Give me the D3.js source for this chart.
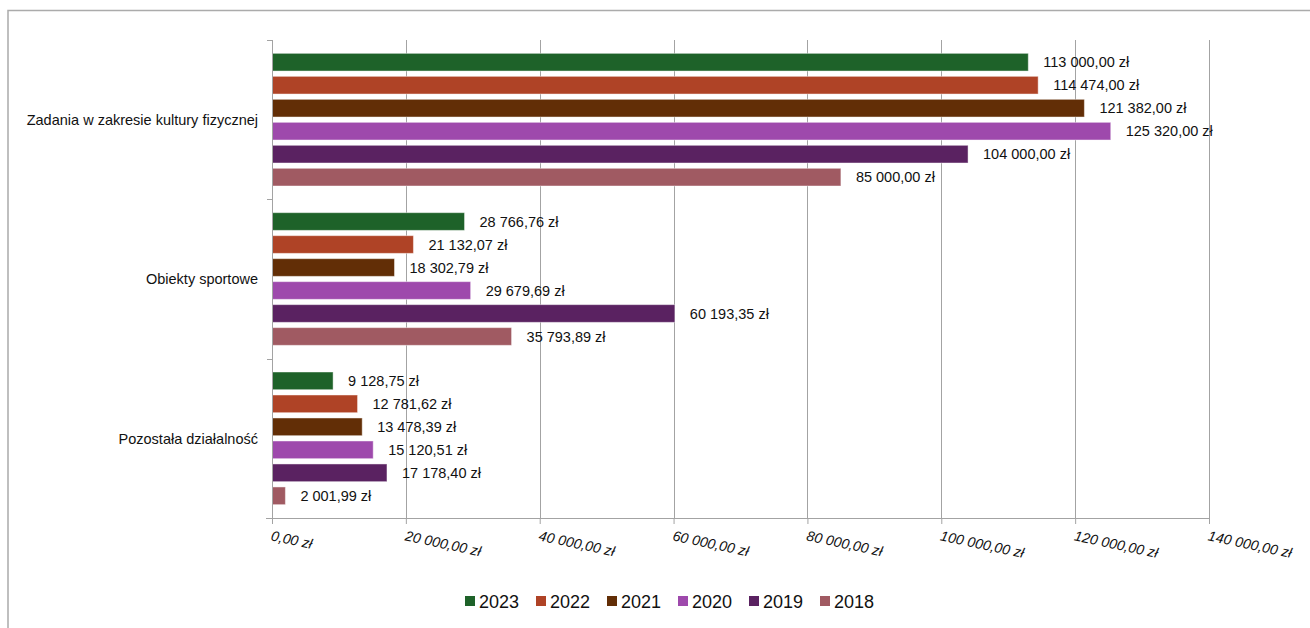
<!DOCTYPE html>
<html>
<head>
<meta charset="utf-8">
<script src="https://cdn.jsdelivr.net/npm/d3@7"></script>
<style>
  html, body { margin: 0; padding: 0; background: #fff; }
  svg { display: block; font-family: "Liberation Sans", Arial, sans-serif; }
</style>
</head>
<body>
<svg id="chart" width="1310" height="628"></svg>
<script>
const categories = ["Zadania w zakresie kultury fizycznej", "Obiekty sportowe", "Pozostała działalność"];
const years = ["2023", "2022", "2021", "2020", "2019", "2018"];
const colors = ["#1E6229", "#AF4326", "#622E06", "#9E49AC", "#5A2261", "#A05A62"];
const values2023 = [113000.00, 28766.76, 9128.75];
const values2022 = [114474.00, 21132.07, 12781.62];
const values2021 = [121382.00, 18302.79, 13478.39];
const values2020 = [125320.00, 29679.69, 15120.51];
const values2019 = [104000.00, 60193.35, 17178.40];
const values2018 = [85000.00, 35793.89, 2001.99];
const tickValues = [0, 20000, 40000, 60000, 80000, 100000, 120000, 140000];

const seriesValues = [values2023, values2022, values2021, values2020, values2019, values2018];

const fmt = v => {
  const parts = v.toFixed(2).split(".");
  const intPart = parts[0].replace(/\B(?=(\d{3})+(?!\d))/g, " ");
  return intPart + "," + parts[1] + " zł";
};

const svg = d3.select("#chart");
const pLeft = 272, pRight = 1209, pTop = 40, pBottom = 518;

// outer frame
svg.append("rect").attr("x", 8).attr("y", 10.5).attr("width", 1320).attr("height", 640)
  .attr("fill", "none").attr("stroke", "#ababab").attr("stroke-width", 1.5);

const x = d3.scaleLinear().domain([0, 140000]).range([pLeft, pRight]);
const y0 = d3.scaleBand().domain(categories).range([pTop, pBottom]).padding(0);
const y1 = d3.scaleBand().domain(years).range([0, y0.bandwidth()]).paddingInner(0.23).paddingOuter(0.58);

// gridlines
const gridColor = "#a3a3a3";
svg.append("g").selectAll("line").data(tickValues.slice(1)).join("line")
  .attr("x1", d => Math.round(x(d)) + 0.5).attr("x2", d => Math.round(x(d)) + 0.5)
  .attr("y1", pTop).attr("y2", pBottom)
  .attr("stroke", gridColor).attr("stroke-width", 1);

// bars
const data = [];
categories.forEach((c, ci) => {
  years.forEach((yr, yi) => {
    data.push({ cat: c, year: yr, value: seriesValues[yi][ci], color: colors[yi] });
  });
});

const gBars = svg.append("g");
gBars.selectAll("rect").data(data).join("rect")
  .attr("x", x(0))
  .attr("y", d => y0(d.cat) + y1(d.year))
  .attr("width", d => x(d.value) - x(0))
  .attr("height", y1.bandwidth())
  .attr("fill", d => d.color)
  .attr("stroke", "rgba(255,255,255,0.45)")
  .attr("stroke-width", 1);

// data labels
gBars.selectAll("text").data(data).join("text")
  .attr("x", d => x(d.value) + 15)
  .attr("y", d => y0(d.cat) + y1(d.year) + y1.bandwidth() / 2)
  .attr("dy", "0.36em")
  .attr("font-size", "14.5px")
  .attr("fill", "#111")
  .text(d => fmt(d.value));

// x axis
const xAxis = svg.append("g").attr("transform", `translate(0,${pBottom})`)
  .call(d3.axisBottom(x).tickValues(tickValues).tickSize(6).tickSizeOuter(0).tickFormat(fmt));
xAxis.select(".domain").attr("stroke", gridColor).attr("d", `M${pLeft - 6},0.5H${pRight}`);
xAxis.selectAll(".tick line").attr("stroke", gridColor);
xAxis.selectAll(".tick text")
  .attr("font-family", "'Liberation Sans', Arial, sans-serif")
  .attr("font-size", "14.2px")
  .attr("font-style", "italic")
  .attr("fill", "#111")
  .attr("text-anchor", "start")
  .attr("y", 0).attr("dy", 0)
  .attr("transform", "translate(0,12) rotate(12) translate(0,10.5)");

// y axis
const yAxis = svg.append("g").attr("transform", `translate(${pLeft},0)`)
  .call(d3.axisLeft(y0).tickValues([]).tickSize(0).tickSizeOuter(0));
yAxis.select(".domain").attr("stroke", gridColor).attr("d", `M0.5,${pTop}V${pBottom}`);
// category boundary ticks
const bounds = categories.map(c => y0(c)).concat([pBottom]);
svg.append("g").selectAll("line").data(bounds).join("line")
  .attr("x1", pLeft - 5).attr("x2", pLeft)
  .attr("y1", d => Math.round(d) + 0.5).attr("y2", d => Math.round(d) + 0.5)
  .attr("stroke", gridColor);
// category labels
svg.append("g").selectAll("text").data(categories).join("text")
  .attr("x", pLeft - 14)
  .attr("y", d => y0(d) + y0.bandwidth() / 2)
  .attr("dy", "0.36em")
  .attr("text-anchor", "end")
  .attr("font-size", "14.5px")
  .attr("fill", "#111")
  .text(d => d);

// legend
const legend = svg.append("g").attr("transform", "translate(465,596)");
const li = legend.selectAll("g").data(years).join("g")
  .attr("transform", (d, i) => `translate(${i * 71},0)`);
li.append("rect").attr("width", 10).attr("height", 10).attr("fill", (d, i) => colors[i]);
li.append("text").attr("x", 14).attr("y", 11.5).attr("font-size", "18px").attr("fill", "#111").text(d => d);
</script>
</body>
</html>
